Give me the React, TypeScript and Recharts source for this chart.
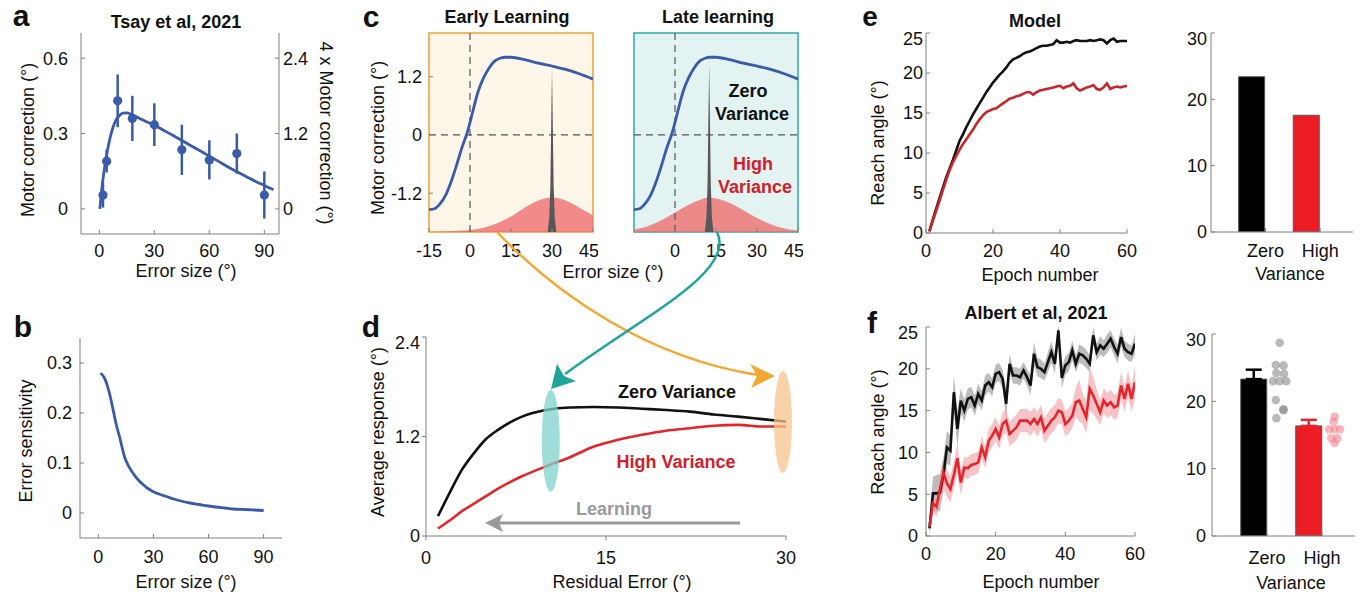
import React from 'react';
import {
  ComposedChart, Line, Area, Bar, Scatter, XAxis, YAxis, ErrorBar,
  ReferenceLine, ReferenceArea, ReferenceDot,
} from 'recharts';

const FONT = '"Liberation Sans", Arial, Helvetica, sans-serif';
const AXIS = '#808080';
const BLUE = '#3a5ba9';
const RED = '#e3262c';
const DARK_RED = '#d0202a';
const MODEL_RED = '#c9252b';
const TICK = { fontSize: 18, fill: '#111' };

// a: Tsay et al, 2021
const tsayError = [2, 4, 10, 18, 30, 45, 60, 75, 90];
const tsayMean = [0.055, 0.19, 0.43, 0.36, 0.335, 0.235, 0.195, 0.22, 0.055];
const tsaySem = [0.05, 0.045, 0.105, 0.09, 0.085, 0.1, 0.078, 0.08, 0.094];
const fitError = [0.3, 1.5, 3, 4.5, 6, 7.5, 9, 11, 13, 15, 18, 22, 26, 30, 35, 40, 45, 50, 55, 60, 65, 70, 75, 80, 85, 90, 95];
const fitCorrection = [0.0, 0.09, 0.17, 0.235, 0.287, 0.325, 0.352, 0.372, 0.381, 0.382, 0.374, 0.36, 0.346, 0.333, 0.313, 0.293, 0.272, 0.251, 0.231, 0.21, 0.189, 0.168, 0.148, 0.129, 0.11, 0.093, 0.076];

// b: error sensitivity
const sensError = [1, 2, 3.3, 4.5, 6, 7.5, 8.8, 10, 11.5, 13, 14.2, 16, 18.8, 21.5, 24.3, 27, 29.7, 33, 37, 41, 46, 50, 55, 60, 64, 69, 73.5, 80, 85, 90];
const sensValue = [0.279, 0.277, 0.27, 0.259, 0.24, 0.216, 0.193, 0.173, 0.153, 0.13, 0.113, 0.097, 0.08, 0.067, 0.057, 0.049, 0.043, 0.038, 0.033, 0.028, 0.023, 0.02, 0.017, 0.014, 0.012, 0.01, 0.008, 0.007, 0.006, 0.005];

// c: motor correction function and error distributions
const corrError = [-15, -13, -11, -9, -7, -5, -3, -1, 1, 3, 5, 7, 9, 11, 13, 15, 20, 25, 30, 35, 40, 45];
const corrValue = [-1.54, -1.52, -1.42, -1.25, -0.98, -0.64, -0.27, 0.05, 0.48, 0.9, 1.18, 1.38, 1.52, 1.58, 1.6, 1.6, 1.55, 1.48, 1.42, 1.35, 1.26, 1.15];
const earlyDistError = [-15, -10, -5, 0, 5, 10, 15, 20, 25, 30, 35, 40, 45];
const earlyDistValue = [-2.0, -1.99, -1.98, -1.96, -1.91, -1.82, -1.68, -1.5, -1.35, -1.29, -1.35, -1.5, -1.66];
const lateDistError = [-15, -10, -5, 0, 5, 10, 12, 15, 20, 25, 30, 35, 40, 45];
const lateDistValue = [-1.95, -1.88, -1.76, -1.6, -1.44, -1.32, -1.29, -1.31, -1.4, -1.55, -1.71, -1.84, -1.93, -1.97];
const earlySpikeError = [28.4, 29, 29.4, 29.7, 30, 30.3, 30.6, 31, 31.6];
const earlySpikeValue = [-2, -1.7, -1.05, 0.2, 1.38, 0.2, -1.05, -1.7, -2];
const lateSpikeError = [10.9, 11.5, 11.9, 12.2, 12.5, 12.8, 13.1, 13.5, 14.1];
const lateSpikeValue = [-2, -1.7, -1.05, 0.25, 1.45, 0.25, -1.05, -1.7, -2];

// d: average response vs residual error
const residError = [1, 2, 3, 4, 5, 6, 7, 8, 10, 12, 14, 16, 18, 20, 22, 24, 26, 28, 30];
const responseZero = [0.24, 0.53, 0.8, 1.0, 1.17, 1.28, 1.37, 1.44, 1.52, 1.55, 1.555, 1.55, 1.535, 1.52, 1.5, 1.465, 1.44, 1.41, 1.38];
const responseHigh = [0.09, 0.19, 0.3, 0.39, 0.48, 0.57, 0.65, 0.72, 0.84, 0.95, 1.08, 1.16, 1.22, 1.27, 1.3, 1.33, 1.34, 1.32, 1.32];

// e: model
const epochs = Array.from({ length: 60 }, (_, i) => i + 1);
const modelZero = [
  0.2, 1.6, 3.0, 4.3, 5.6, 6.9, 8.0, 9.1, 10.3, 11.5,
  12.3, 13.2, 14.0, 14.8, 15.5, 16.2, 16.9, 17.6, 18.2, 18.8,
  19.3, 19.8, 20.2, 20.7, 21.3, 21.7, 21.9, 22.1, 22.4, 22.6,
  22.7, 22.9, 23.1, 23.3, 23.4, 23.4, 23.5, 23.6, 24.1, 23.8,
  23.8, 23.9, 23.8, 24.0, 24.1, 24.0, 24.0, 24.0, 24.1, 24.0,
  24.1, 24.2, 24.1, 23.7, 24.1, 24.3, 23.9, 24.0, 24.0, 24.0,
];
const modelHigh = [
  0.2, 1.5, 2.7, 4.0, 5.3, 6.6, 7.8, 8.8, 9.6, 10.4,
  11.1, 11.7, 12.3, 12.9, 13.6, 14.2, 14.7, 15.1, 15.3, 15.5,
  15.6, 15.9, 16.2, 16.5, 16.8, 16.9, 17.1, 17.2, 17.4, 17.6,
  17.6, 17.3, 17.6, 17.8, 17.9, 18.0, 18.1, 18.2, 18.3, 18.4,
  18.1, 18.3, 18.4, 18.7, 18.1, 17.8, 18.0, 18.2, 18.3, 18.5,
  18.0, 17.9, 18.2, 18.7, 18.0, 18.2, 18.3, 18.2, 18.3, 18.4,
];
const varianceLabels = ['Zero', 'High'];
const modelFinal = [23.4, 17.6];

// f: Albert et al, 2021
const albertZero = [
  0.9, 5.1, 5.1, 5.2, 7.3, 10.6, 10.2, 17.2, 12.8, 16.2,
  15.0, 16.4, 16.6, 15.6, 17.0, 16.2, 18.0, 18.4, 17.8, 19.4,
  19.6, 18.8, 15.8, 20.6, 19.2, 19.2, 19.0, 19.8, 19.0, 18.0,
  21.8, 20.2, 20.0, 19.6, 20.8, 22.0, 20.6, 24.6, 18.9, 20.4,
  20.8, 22.2, 20.6, 21.8, 21.6, 21.2, 20.6, 24.0, 22.0, 22.8,
  22.4, 23.0, 23.6, 22.6, 21.8, 23.8, 22.4, 22.0, 21.8, 23.0,
];
const albertZeroSem = [
  0.8, 2.0, 2.2, 2.2, 2.0, 2.0, 1.8, 2.0, 2.2, 1.5,
  1.3, 1.3, 1.2, 1.2, 1.2, 1.2, 1.2, 1.1, 1.1, 1.1,
  1.1, 1.1, 1.8, 1.1, 1.0, 1.0, 1.0, 1.0, 1.0, 1.2,
  1.4, 1.1, 1.1, 1.0, 1.2, 1.3, 1.2, 0.8, 1.3, 1.1,
  1.1, 1.2, 1.0, 1.1, 1.1, 1.1, 1.0, 1.1, 1.0, 1.1,
  1.0, 1.1, 1.0, 1.0, 1.1, 1.1, 1.0, 1.0, 1.0, 1.2,
];
const albertHigh = [
  1.1, 3.9, 3.5, 5.6, 7.6, 6.3, 5.6, 7.3, 9.3, 6.4,
  8.2, 8.1, 8.5, 8.6, 8.8, 10.6, 9.4, 11.4, 12.0, 12.8,
  11.8, 13.4, 13.8, 12.2, 12.6, 13.0, 13.8, 13.8, 13.8, 13.4,
  14.0, 13.4, 14.2, 12.6, 13.2, 13.8, 14.2, 15.0, 14.8, 13.4,
  13.8, 14.4, 16.0, 16.2, 15.2, 14.2, 17.6, 16.8, 15.8, 14.8,
  16.2, 15.6, 16.0, 15.4, 15.6, 18.0, 16.4, 18.2, 16.4, 18.4,
];
const albertHighSem = [
  0.5, 1.0, 1.2, 1.6, 2.0, 1.6, 1.6, 1.6, 1.8, 1.5,
  1.3, 1.3, 1.3, 1.3, 1.3, 1.4, 1.3, 1.4, 1.4, 1.4,
  1.4, 1.4, 1.4, 1.4, 1.5, 1.5, 1.4, 1.4, 1.4, 1.4,
  1.4, 1.5, 1.5, 1.5, 1.5, 1.5, 1.5, 1.5, 1.5, 1.5,
  1.5, 1.5, 1.8, 2.5, 1.8, 2.0, 2.6, 2.2, 1.8, 1.5,
  1.5, 1.5, 1.5, 1.5, 1.5, 1.6, 1.5, 1.6, 1.5, 2.0,
];
const albertFinal = [23.3, 16.35];
const albertFinalSem = [1.4, 0.9];
const albertZeroSubjects = [28.7, 25.4, 25.3, 24.2, 24.1, 23.0, 23.0, 23.0, 20.2, 18.8, 17.5, 18.7];
const albertHighSubjects = [17.7, 17.0, 15.85, 15.85, 15.85, 14.5, 14.5, 13.8];

// layout-only helpers
const BAR_SHIFT = -0.25;
const DOT_SHIFT = 0.23;
const zeroJitter = [0, -0.07, 0.07, -0.06, 0.08, -0.12, 0, 0.12, -0.07, 0.07, -0.06, 0.07];
const highJitter = [0, -0.02, -0.1, 0, 0.1, -0.06, 0.05, 0];

const pts = (xs: number[], ys: number[]) => xs.map((x, i) => ({ x, y: ys[i] }));

const tsayRows = tsayError.map((x, i) => ({ x, y: tsayMean[i], err: tsaySem[i] }));
const fitRows = pts(fitError, fitCorrection);
const sensRows = pts(sensError, sensValue);
const corrRows = pts(corrError, corrValue);
const earlyDistRows = pts(earlyDistError, earlyDistValue);
const lateDistRows = pts(lateDistError, lateDistValue);
const earlySpikeRows = pts(earlySpikeError, earlySpikeValue);
const lateSpikeRows = pts(lateSpikeError, lateSpikeValue);
const residRows = residError.map((x, i) => ({ x, zero: responseZero[i], high: responseHigh[i] }));
const modelRows = epochs.map((e, i) => ({ epoch: e, zero: modelZero[i], high: modelHigh[i] }));
const albertRows = epochs.map((e, i) => ({
  epoch: e,
  zero: albertZero[i],
  high: albertHigh[i],
  zeroBand: [albertZero[i] - albertZeroSem[i], albertZero[i] + albertZeroSem[i]],
  highBand: [albertHigh[i] - albertHighSem[i], albertHigh[i] + albertHighSem[i]],
}));
const modelBarRows = varianceLabels.map((_, i) => ({
  pos: i + 1 + BAR_SHIFT,
  zero: i === 0 ? modelFinal[0] : 0,
  high: i === 1 ? modelFinal[1] : 0,
}));
const albertBarRows = varianceLabels.map((_, i) => ({
  pos: i + 1 + BAR_SHIFT,
  zero: i === 0 ? albertFinal[0] : 0,
  high: i === 1 ? albertFinal[1] : 0,
  zeroErr: [0, albertFinalSem[0]],
  highErr: [0, albertFinalSem[1]],
}));
const zeroDotRows = albertZeroSubjects.map((v, i) => ({ pos: 1 + DOT_SHIFT + zeroJitter[i], v }));
const highDotRows = albertHighSubjects.map((v, i) => ({ pos: 2 + DOT_SHIFT + highJitter[i], v }));

const Pos: React.FC<{ x: number; y: number; children: React.ReactNode }> = ({ x, y, children }) => (
  <div style={{ position: 'absolute', left: x, top: y }}>{children}</div>
);

const M = (right: number) => ({ top: 5, right, bottom: 0, left: 0 });

const Ellipse = (fill: string) => (p: any) => (
  <ellipse cx={p.cx} cy={p.cy} rx={9} ry={51} fill={fill} fillOpacity={0.75} />
);

const Dot = (fill: string, opacity: number, r: number) => (p: any) => (
  <circle cx={p.cx} cy={p.cy} r={r} fill={fill} fillOpacity={opacity} />
);

type TxtProps = { x: number; y: number; size?: number; bold?: boolean; fill?: string; rotate?: number; children: React.ReactNode };
const Txt: React.FC<TxtProps> = ({ x, y, size = 18, bold, fill = '#111', rotate = 0, children }) => (
  <text transform={`translate(${x},${y}) rotate(${rotate})`} textAnchor="middle" fontSize={size}
    fontWeight={bold ? 'bold' : 'normal'} fill={fill}>{children}</text>
);

const CorrectionPanel: React.FC<{ bg: string; border: string; dist: any[]; spike: any[]; labels: boolean }> = ({ bg, border, dist, spike, labels }) => (
  <ComposedChart width={labels ? 219 : 174} height={244} margin={M(5)}>
    <XAxis type="number" dataKey="x" domain={[-15, 45]} ticks={[-15, 0, 15, 30, 45]} allowDataOverflow
      height={40} axisLine={false} tickSize={-4} tickMargin={16} stroke={AXIS} tick={TICK} />
    <YAxis type="number" domain={[-2, 2.1]} ticks={[-1.2, 0, 1.2]} allowDataOverflow width={labels ? 50 : 5}
      axisLine={false} tickSize={-4} tickMargin={11} stroke={AXIS} tick={labels ? TICK : false} />
    <ReferenceArea x1={-15} x2={45} y1={-2} y2={2.1} fill={bg} fillOpacity={1} stroke={border} strokeWidth={1.5} />
    <ReferenceLine x={0} stroke="#555" strokeDasharray="7 5" strokeWidth={1.2} />
    <ReferenceLine y={0} stroke="#555" strokeDasharray="7 5" strokeWidth={1.2} />
    <Area data={dist} dataKey="y" type="monotone" baseValue={-2} fill="#ee6f6f" fillOpacity={0.8} stroke="none" isAnimationActive={false} />
    <Area data={spike} dataKey="y" type="linear" baseValue={-2} fill="#585858" fillOpacity={1} stroke="none" isAnimationActive={false} />
    <Line data={corrRows} dataKey="y" type="monotone" stroke={BLUE} strokeWidth={2.8} dot={false} isAnimationActive={false} />
  </ComposedChart>
);

export default function App() {
  return (
    <div style={{ position: 'absolute', left: 0, top: 0, width: 1361, height: 596, background: '#fff', fontFamily: FONT, overflow: 'hidden' }}>
      {/* a */}
      <Pos x={21} y={28}>
        <ComposedChart width={318} height={246} margin={M(0)}>
          <XAxis type="number" dataKey="x" domain={[-10, 98]} ticks={[0, 30, 60, 90]} allowDataOverflow
            height={40} tickSize={-4} tickMargin={14} stroke={AXIS} tick={TICK} />
          <YAxis yAxisId="l" type="number" domain={[-0.1, 0.7]} ticks={[0, 0.3, 0.6]} allowDataOverflow
            width={60} tickSize={-4} tickMargin={17} stroke={AXIS} tick={TICK} />
          <YAxis yAxisId="r" orientation="right" type="number" domain={[-0.4, 2.8]} ticks={[0, 1.2, 2.4]} allowDataOverflow
            width={60} tickSize={-4} tickMargin={8} stroke={AXIS} tick={TICK} />
          <Line yAxisId="l" data={fitRows} dataKey="y" type="monotone" stroke={BLUE} strokeWidth={2.8} dot={false} isAnimationActive={false} />
          <Scatter yAxisId="l" data={tsayRows} dataKey="y" fill={BLUE} shape={Dot(BLUE, 1, 4.6)} isAnimationActive={false}>
            <ErrorBar dataKey="err" direction="y" width={0} stroke={BLUE} strokeWidth={2.5} />
          </Scatter>
        </ComposedChart>
      </Pos>

      {/* b */}
      <Pos x={20} y={333}>
        <ComposedChart width={272} height={245} margin={M(10)}>
          <XAxis type="number" dataKey="x" domain={[-10, 100]} ticks={[0, 30, 60, 90]} allowDataOverflow
            height={40} tickSize={-4} tickMargin={16} stroke={AXIS} tick={TICK} />
          <YAxis type="number" domain={[-0.05, 0.35]} ticks={[0, 0.1, 0.2, 0.3]} allowDataOverflow
            width={60} tickSize={-4} tickMargin={12} stroke={AXIS} tick={TICK} />
          <Line data={sensRows} dataKey="y" type="monotone" stroke={BLUE} strokeWidth={2.8} dot={false} isAnimationActive={false} />
        </ComposedChart>
      </Pos>

      {/* c */}
      <Pos x={379} y={28}>
        <CorrectionPanel bg="#fdf6e9" border="#f0a033" dist={earlyDistRows} spike={earlySpikeRows} labels />
      </Pos>
      <Pos x={629} y={28}>
        <CorrectionPanel bg="#e3f3f2" border="#2faaa1" dist={lateDistRows} spike={lateSpikeRows} labels={false} />
      </Pos>

      {/* d */}
      <Pos x={376} y={332}>
        <ComposedChart width={425} height={249} data={residRows} margin={M(15)}>
          <XAxis type="number" dataKey="x" domain={[0, 30]} ticks={[0, 15, 30]} allowDataOverflow
            height={45} tickSize={4} tickMargin={11} stroke={AXIS} tick={TICK} />
          <YAxis type="number" domain={[0, 2.4]} ticks={[0, 1.2, 2.4]} allowDataOverflow
            width={50} tickSize={4} tickMargin={2} stroke={AXIS} tick={TICK} />
          <ReferenceDot x={10.4} y={1.15} shape={Ellipse('#7fd1cc')} />
          <ReferenceDot x={29.75} y={1.375} shape={Ellipse('#f8c38e')} />
          <Line dataKey="zero" type="monotone" stroke="#111" strokeWidth={2.6} dot={false} isAnimationActive={false} />
          <Line dataKey="high" type="monotone" stroke={RED} strokeWidth={2.6} dot={false} isAnimationActive={false} />
        </ComposedChart>
      </Pos>

      {/* e */}
      <Pos x={881} y={28}>
        <ComposedChart width={256} height={245} data={modelRows} margin={M(10)}>
          <XAxis type="number" dataKey="epoch" domain={[0, 60]} ticks={[0, 20, 40, 60]} allowDataOverflow
            height={40} tickSize={-4} tickMargin={15} stroke={AXIS} tick={TICK} />
          <YAxis type="number" domain={[0, 25]} ticks={[0, 5, 10, 15, 20, 25]} allowDataOverflow
            width={45} tickSize={-4} tickMargin={7} stroke={AXIS} tick={TICK} />
          <Line dataKey="zero" type="linear" stroke="#111" strokeWidth={2.6} dot={false} isAnimationActive={false} />
          <Line dataKey="high" type="linear" stroke={MODEL_RED} strokeWidth={2.6} dot={false} isAnimationActive={false} />
        </ComposedChart>
      </Pos>
      <Pos x={1166} y={28}>
        <ComposedChart width={192} height={249} data={modelBarRows} margin={M(5)}>
          <XAxis type="number" dataKey="pos" domain={[0, 2.6]} ticks={[1, 2]} allowDataOverflow
            tickFormatter={(v: number) => varianceLabels[v - 1]}
            height={45} tickSize={-4} tickMargin={16} stroke={AXIS} tick={TICK} />
          <YAxis type="number" domain={[0, 30]} ticks={[0, 10, 20, 30]} allowDataOverflow
            width={45} tickSize={-4} tickMargin={8} stroke={AXIS} tick={TICK} />
          <Bar dataKey="zero" stackId="v" barSize={26} fill="#000" stroke="#555" isAnimationActive={false} />
          <Bar dataKey="high" stackId="v" barSize={26} fill="#ec1c24" stroke="#555" isAnimationActive={false} />
        </ComposedChart>
      </Pos>

      {/* f */}
      <Pos x={881} y={322}>
        <ComposedChart width={264} height={259} data={albertRows} margin={M(10)}>
          <XAxis type="number" dataKey="epoch" domain={[0, 60]} ticks={[0, 20, 40, 60]} allowDataOverflow
            height={45} tickSize={-4} tickMargin={15} stroke={AXIS} tick={TICK} />
          <YAxis type="number" domain={[0, 25]} ticks={[0, 5, 10, 15, 20, 25]} allowDataOverflow
            width={45} tickSize={-4} tickMargin={12} stroke={AXIS} tick={TICK} />
          <Area dataKey="zeroBand" type="linear" fill="#8f8f8f" fillOpacity={0.6} stroke="none" isAnimationActive={false} />
          <Area dataKey="highBand" type="linear" fill="#f4a3a8" fillOpacity={0.65} stroke="none" isAnimationActive={false} />
          <Line dataKey="zero" type="linear" stroke="#111" strokeWidth={2.6} dot={false} isAnimationActive={false} />
          <Line dataKey="high" type="linear" stroke={RED} strokeWidth={2.6} dot={false} isAnimationActive={false} />
        </ComposedChart>
      </Pos>
      <Pos x={1167} y={329}>
        <ComposedChart width={193} height={252} data={albertBarRows} margin={M(5)}>
          <XAxis type="number" dataKey="pos" domain={[0, 2.6]} ticks={[1, 2]} allowDataOverflow
            tickFormatter={(v: number) => varianceLabels[v - 1]}
            height={45} tickSize={-4} tickMargin={19} stroke={AXIS} tick={TICK} />
          <XAxis xAxisId="dots" type="number" dataKey="pos" domain={[0, 2.6]} allowDataOverflow hide />
          <YAxis type="number" domain={[0, 30]} ticks={[0, 10, 20, 30]} allowDataOverflow
            width={45} tickSize={-4} tickMargin={10} stroke={AXIS} tick={TICK} />
          <Bar dataKey="zero" stackId="v" barSize={26} fill="#000" stroke="#555" isAnimationActive={false}>
            <ErrorBar dataKey="zeroErr" direction="y" width={8} stroke="#000" strokeWidth={2.5} />
          </Bar>
          <Bar dataKey="high" stackId="v" barSize={26} fill="#ec1c24" stroke="#555" isAnimationActive={false}>
            <ErrorBar dataKey="highErr" direction="y" width={8} stroke={RED} strokeWidth={2.5} />
          </Bar>
          <Scatter xAxisId="dots" data={zeroDotRows} dataKey="v" shape={Dot('#8a8a8a', 0.6, 4.3)} isAnimationActive={false} />
          <Scatter xAxisId="dots" data={highDotRows} dataKey="v" shape={Dot('#f27c86', 0.55, 4.3)} isAnimationActive={false} />
        </ComposedChart>
      </Pos>

      {/* labels, titles and arrows */}
      <svg width={1361} height={596} style={{ position: 'absolute', left: 0, top: 0, pointerEvents: 'none' }}>
        <g fontFamily={FONT}>
          <Txt x={21} y={26} size={30} bold>a</Txt>
          <Txt x={23} y={337} size={30} bold>b</Txt>
          <Txt x={371} y={27} size={30} bold>c</Txt>
          <Txt x={371} y={337} size={30} bold>d</Txt>
          <Txt x={870} y={26} size={28} bold>e</Txt>
          <Txt x={872} y={333} size={30} bold>f</Txt>

          <Txt x={176} y={28} bold>Tsay et al, 2021</Txt>
          <Txt x={507} y={23} bold>Early Learning</Txt>
          <Txt x={718} y={23} bold>Late learning</Txt>
          <Txt x={1035} y={27} bold>Model</Txt>
          <Txt x={1036} y={319} bold>Albert et al, 2021</Txt>

          <Txt x={186} y={277}>Error size (°)</Txt>
          <Txt x={34} y={140} rotate={-90}>Motor correction (°)</Txt>
          <Txt x={320} y={133} rotate={90}>4 x Motor correction (°)</Txt>
          <Txt x={186} y={588}>Error size (°)</Txt>
          <Txt x={32} y={441} rotate={-90}>Error sensitivity</Txt>
          <Txt x={384} y={138} rotate={-90}>Motor correction (°)</Txt>
          <Txt x={613} y={278}>Error size (°)</Txt>
          <Txt x={384} y={432} rotate={-90}>Average response (°)</Txt>
          <Txt x={622} y={588}>Residual Error (°)</Txt>
          <Txt x={884} y={143} rotate={-90}>Reach angle (°)</Txt>
          <Txt x={1040} y={281}>Epoch number</Txt>
          <Txt x={1290} y={280}>Variance</Txt>
          <Txt x={884} y={432} rotate={-90}>Reach angle (°)</Txt>
          <Txt x={1041} y={588}>Epoch number</Txt>
          <Txt x={1291} y={589}>Variance</Txt>

          <Txt x={748} y={97} bold>Zero</Txt>
          <Txt x={752} y={120} bold>Variance</Txt>
          <Txt x={753} y={170} bold fill={DARK_RED}>High</Txt>
          <Txt x={755} y={193} bold fill={DARK_RED}>Variance</Txt>
          <Txt x={677} y={398} bold>Zero Variance</Txt>
          <Txt x={676} y={468} bold fill={DARK_RED}>High Variance</Txt>
          <Txt x={614} y={515} bold fill="#9a9a9a">Learning</Txt>
        </g>
        <path d="M497 232 C557 295 648 358 758 375" stroke="#f5a733" strokeWidth={2.5} fill="none" />
        <polygon points="775,376 750,364 757,376 751,388" fill="#f5a733" />
        <path d="M717 232 C737 272 640 318 565 374" stroke="#1ea49b" strokeWidth={2.5} fill="none" />
        <polygon points="551,389 557,364 564,376 576,381" fill="#1ea49b" />
        <line x1={740} y1={523} x2={498} y2={523} stroke="#9a9a9a" strokeWidth={3} />
        <polygon points="485,523 503,514 499,523 503,532" fill="#9a9a9a" />
      </svg>
    </div>
  );
}
